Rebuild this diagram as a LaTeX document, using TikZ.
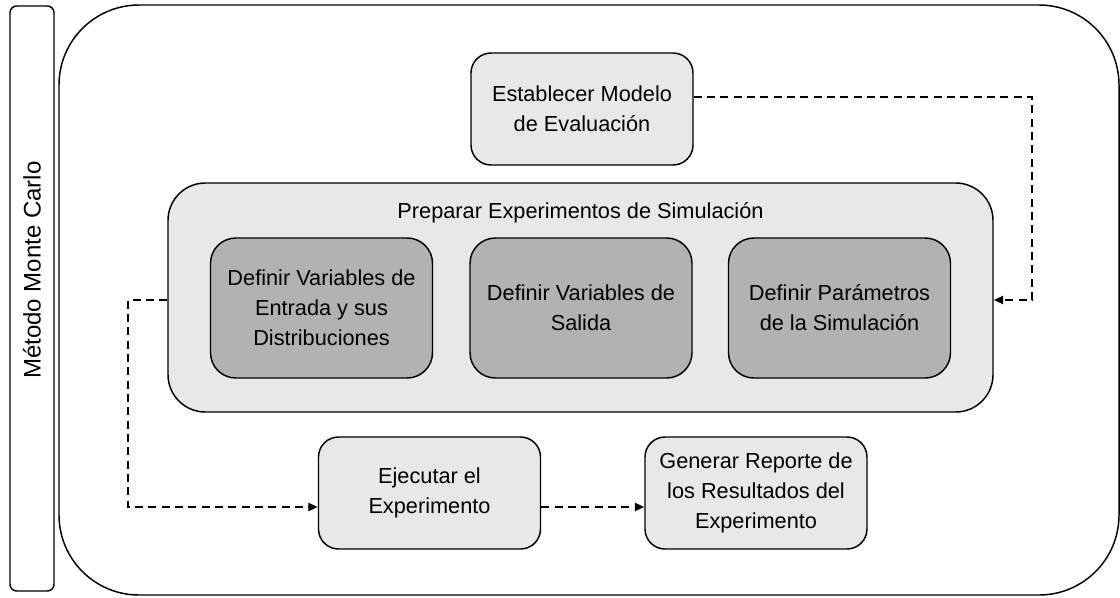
\documentclass[tikz,border=0pt]{standalone}
\usepackage{fontspec}
\setmainfont{Liberation Sans}
\usetikzlibrary{arrows.meta}
\definecolor{fondo}{HTML}{E8E8E8}
\definecolor{oscuro}{HTML}{B2B2B2}

\begin{document}
\begin{tikzpicture}[x=0.75pt,y=-0.75pt,
 font=\fontsize{16.3pt}{22.5pt}\selectfont,
 caja/.style={draw=black,line width=1.1pt,fill=fondo,rounded corners=15pt,
   inner sep=0pt,align=center,minimum width=166.5pt,minimum height=84pt},
 subcaja/.style={caja,fill=oscuro,rounded corners=19pt,minimum height=105pt},
 flujo/.style={line width=1.5pt,dash pattern=on 6pt off 4pt,
   -{Triangle[length=7pt,width=6pt]}}]

\useasboundingbox (0,0) rectangle (1120,597);

% marco del metodo
\node[draw,line width=1.1pt,rounded corners=5pt,minimum width=33pt,
  minimum height=438.75pt,inner sep=0pt] (metodo) at (32,298.5) {};
\node[rotate=90,font=\fontsize{18pt}{22pt}\selectfont] (metodotxt) at (32,270) {Método Monte Carlo};
\draw[line width=1.1pt,rounded corners=60pt] (59,5) rectangle (1119,595);

\node[caja] (modelo) at (582,109) {Establecer Modelo\\de Evaluación};
\node[caja,rounded corners=28pt,minimum width=618.75pt,minimum height=171.75pt]
  (preparar) at (580.5,297.5) {};
\node[anchor=north] (preptitulo) at (580.5,198) {Preparar Experimentos de Simulación};
\node[subcaja] (entrada) at (321.5,308) {Definir Variables de\\Entrada y sus\\Distribuciones};
\node[subcaja] (salida) at (581,308) {Definir Variables de\\Salida};
\node[subcaja] (parametros) at (839.5,308) {Definir Parámetros\\de la Simulación};
\node[caja] (ejecutar) at (429.5,493) {Ejecutar el\\Experimento};
\node[caja] (reporte) at (756,493) {Generar Reporte de\\los Resultados del\\Experimento};

\draw[flujo] (modelo.east |- 0,97) -| (1032,300) -- (preparar.east |- 0,300);
\draw[flujo] (preparar.west |- 0,300) -| (128,507) -- (ejecutar.west |- 0,507);
\draw[flujo] (ejecutar.east |- 0,507) -- (reporte.west |- 0,507);
\end{tikzpicture}
\end{document}
